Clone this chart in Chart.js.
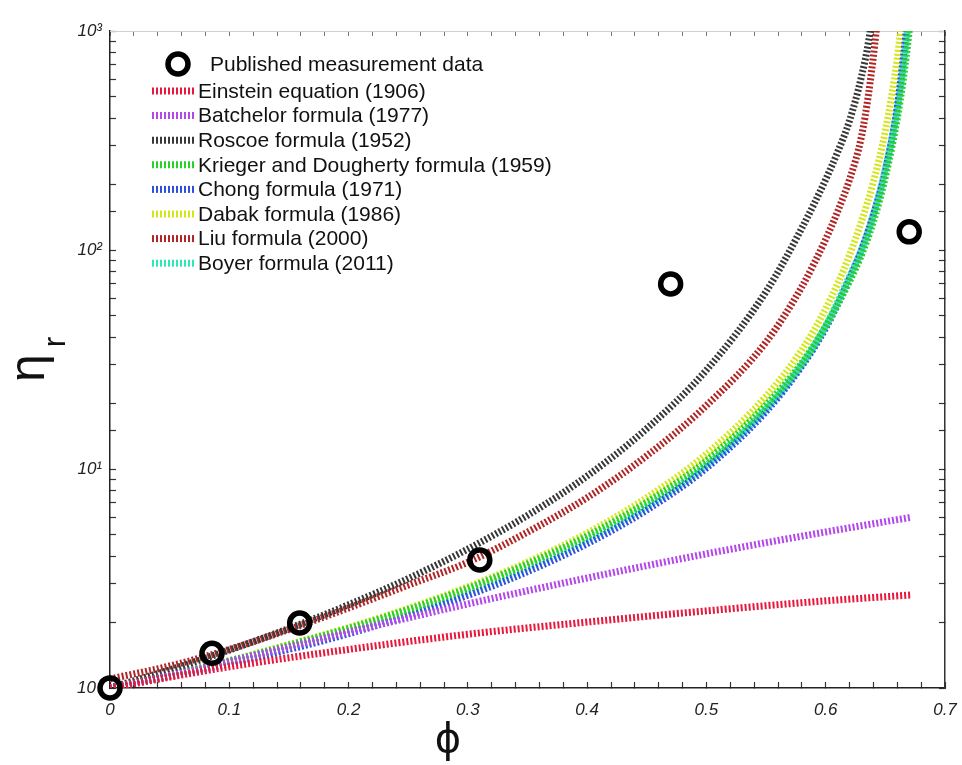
<!DOCTYPE html>
<html><head><meta charset="utf-8">
<script src="https://cdn.jsdelivr.net/npm/chart.js@4/dist/chart.umd.min.js"></script>
<style>html,body{margin:0;padding:0;background:#fff;}canvas{display:block;}</style>
</head><body>
<canvas id="c" width="962" height="765"></canvas>
<script>
// ---- data ----
const seriesLabels = [
  'Published measurement data',
  'Einstein equation (1906)',
  'Batchelor formula (1977)',
  'Roscoe formula (1952)',
  'Krieger and Dougherty formula (1959)',
  'Chong formula (1971)',
  'Dabak formula (1986)',
  'Liu formula (2000)',
  'Boyer formula (2011)'
];
const seriesColors = ['#000000','#e8183c','#b347ec','#383838','#27d127','#2f4fe0','#d4e61a','#b02626','#2fe8b8'];

const phiMeasured = [0, 0.0855, 0.159, 0.31, 0.47, 0.67];
const etaMeasured = [1.0, 1.44, 1.98, 3.84, 70, 121];

const phiEinstein = [0, 0.1, 0.2, 0.3, 0.4, 0.5, 0.6, 0.672];
const etaEinstein = [1.0, 1.25, 1.5, 1.76, 2.0, 2.25, 2.5, 2.66];

const phiBatchelor = [0, 0.05, 0.1, 0.15, 0.2, 0.25, 0.3, 0.35, 0.4, 0.45, 0.5, 0.55, 0.6, 0.65, 0.672];
const etaBatchelor = [1.0, 1.14, 1.32, 1.54, 1.80, 2.09, 2.42, 2.78, 3.18, 3.62, 4.10, 4.61, 5.16, 5.75, 6.02];

const phiRoscoe = [0, 0.05, 0.1, 0.15, 0.2, 0.25, 0.3, 0.35, 0.4, 0.45, 0.5, 0.55, 0.58, 0.6, 0.61, 0.62, 0.63, 0.636, 0.64];
const etaRoscoe = [1.0, 1.21, 1.49, 1.87, 2.40, 3.16, 4.31, 6.14, 9.29, 15.3, 28.3, 64.6, 126, 210, 280, 390, 620, 900, 1300];

const phiKrieger = [0, 0.05, 0.1, 0.15, 0.2, 0.25, 0.3, 0.35, 0.4, 0.45, 0.5, 0.55, 0.58, 0.6, 0.62, 0.63, 0.64, 0.65, 0.66, 0.665, 0.67, 0.673];
const etaKrieger = [1.0, 1.15, 1.33, 1.57, 1.87, 2.28, 2.85, 3.68, 4.94, 7.04, 10.9, 19.6, 30.5, 45, 72, 95, 135, 215, 400, 600, 1000, 1400];

const phiChong = [0, 0.05, 0.1, 0.15, 0.2, 0.25, 0.3, 0.35, 0.4, 0.45, 0.5, 0.55, 0.58, 0.6, 0.62, 0.63, 0.64, 0.65, 0.66, 0.665, 0.668, 0.671];
const etaChong = [1.0, 1.13, 1.29, 1.50, 1.77, 2.14, 2.65, 3.40, 4.56, 6.5, 10.1, 18.3, 29.5, 44, 74, 100, 145, 230, 450, 750, 1050, 1500];

const phiDabak = [0, 0.05, 0.1, 0.15, 0.2, 0.25, 0.3, 0.35, 0.4, 0.45, 0.5, 0.55, 0.58, 0.6, 0.62, 0.64, 0.65, 0.66, 0.664];
const etaDabak = [1.0, 1.15, 1.33, 1.58, 1.89, 2.31, 2.90, 3.76, 5.1, 7.4, 11.7, 21.5, 35, 54, 95, 205, 350, 750, 1150];

const phiLiu = [0, 0.05, 0.1, 0.15, 0.2, 0.25, 0.3, 0.35, 0.4, 0.45, 0.5, 0.55, 0.58, 0.6, 0.61, 0.62, 0.63, 0.636, 0.641, 0.645];
const etaLiu = [1.1, 1.26, 1.5, 1.85, 2.32, 2.95, 3.75, 5.15, 7.4, 11.5, 19.5, 38, 68, 112, 150, 210, 330, 520, 860, 1400];

const phiBoyer = [0, 0.05, 0.1, 0.15, 0.2, 0.25, 0.3, 0.35, 0.4, 0.45, 0.5, 0.55, 0.58, 0.6, 0.62, 0.63, 0.64, 0.65, 0.66, 0.666, 0.669, 0.672];
const etaBoyer = [1.0, 1.14, 1.31, 1.54, 1.83, 2.22, 2.76, 3.55, 4.75, 6.75, 10.4, 18.8, 30, 45, 76, 100, 145, 235, 440, 760, 1050, 1450];

const xTickLabels = ['0', '0.1', '0.2', '0.3', '0.4', '0.5', '0.6', '0.7'];
const yTickLabels = ['10\u2070', '10\u00b9', '10\u00b2', '10\u00b3'];

// ---- build datasets ----
const pts = (xs, ys) => xs.map((x, i) => ({x, y: ys[i]}));
const curveSets = [
  [phiEinstein, etaEinstein], [phiBatchelor, etaBatchelor], [phiRoscoe, etaRoscoe],
  [phiKrieger, etaKrieger], [phiChong, etaChong], [phiDabak, etaDabak],
  [phiLiu, etaLiu], [phiBoyer, etaBoyer]
];
const datasets = [{
  label: seriesLabels[0],
  data: pts(phiMeasured, etaMeasured),
  showLine: false,
  clip: false,
  pointRadius: 10,
  pointBorderWidth: 5.5,
  pointBorderColor: '#000',
  pointBackgroundColor: 'rgba(0,0,0,0)',
  pointHoverRadius: 10
}];
curveSets.forEach((s, i) => {
  datasets.push({
    label: seriesLabels[i + 1],
    data: pts(s[0], s[1]),
    showLine: true,
    borderColor: seriesColors[i + 1],
    borderWidth: 7,
    borderDash: [2, 2],
    pointRadius: 0,
    cubicInterpolationMode: 'monotone',
    fill: false
  });
});

const tickFont = {family: 'Liberation Sans, Arial, sans-serif', size: 17, style: 'italic'};

const legendPlugin = {
  id: 'customLegend',
  afterDatasetsDraw(chart) {
    const ctx = chart.ctx;
    ctx.save();
    ctx.font = '21px "Liberation Sans", Arial, sans-serif';
    ctx.textBaseline = 'middle';
    ctx.fillStyle = '#111';
    // measurement row
    ctx.beginPath();
    ctx.arc(178, 64, 10, 0, Math.PI * 2);
    ctx.lineWidth = 5.5;
    ctx.strokeStyle = '#000';
    ctx.stroke();
    ctx.fillText(chart.data.datasets[0].label, 210, 65);
    for (let i = 1; i < chart.data.datasets.length; i++) {
      const ds = chart.data.datasets[i];
      const y = 91 + (i - 1) * 24.6;
      ctx.beginPath();
      ctx.setLineDash([2, 2]);
      ctx.lineWidth = 7;
      ctx.strokeStyle = ds.borderColor;
      ctx.moveTo(152, y);
      ctx.lineTo(196, y);
      ctx.stroke();
      ctx.setLineDash([]);
      ctx.fillText(ds.label, 198, y + 1);
    }
    ctx.restore();
  },
  afterDraw(chart) {
    const ctx = chart.ctx;
    ctx.save();
    ctx.fillStyle = '#111';
    // y-axis title
    ctx.translate(30, 368);
    ctx.rotate(-Math.PI / 2);
    ctx.textAlign = 'center';
    ctx.textBaseline = 'middle';
    ctx.font = '50px "Liberation Sans", Arial, sans-serif';
    ctx.fillText('\u03b7', 0, 0);
    ctx.font = '32px "Liberation Sans", Arial, sans-serif';
    ctx.fillText('r', 26, 26);
    ctx.restore();
    // x-axis title
    ctx.save();
    ctx.fillStyle = '#111';
    ctx.textAlign = 'center';
    ctx.textBaseline = 'middle';
    ctx.font = '40px "DejaVu Sans", sans-serif';
    ctx.fillText('\u03d5', 448, 742);
    ctx.restore();
  }
};

new Chart(document.getElementById('c'), {
  type: 'scatter',
  data: {datasets},
  options: {
    responsive: false,
    animation: false,
    events: [],
    layout: {padding: {left: 0, top: 31, right: 17, bottom: 0}},
    plugins: {legend: {display: false}, tooltip: {enabled: false}},
    scales: {
      x: {
        type: 'linear', position: 'bottom', min: 0, max: 0.7,
        afterFit: s => { s.height = 77; s.paddingLeft = 0; s.paddingRight = 0; },
        ticks: {
          stepSize: 0.02, autoSkip: false, maxRotation: 0, padding: 18,
          color: '#222', font: tickFont,
          callback: (v, i) => (i % 5 === 0 ? xTickLabels[i / 5] : '')
        },
        grid: {drawOnChartArea: false, tickLength: -6, tickColor: '#333', tickWidth: 1.2},
        border: {display: true, color: '#222', width: 1.5}
      },
      y: {
        type: 'logarithmic', position: 'left', min: 1, max: 1000,
        afterFit: s => { s.width = 110; s.paddingTop = 0; s.paddingBottom = 0; },
        ticks: {
          autoSkip: false, padding: 14, color: '#222', font: tickFont,
          callback: v => {
            const l = Math.log10(v);
            return Math.abs(l - Math.round(l)) < 1e-9 ? yTickLabels[Math.round(l)] : '';
          }
        },
        grid: {drawOnChartArea: false, tickLength: -6, tickColor: '#333', tickWidth: 1.2},
        border: {display: true, color: '#222', width: 1.5}
      },
      x2: {
        type: 'linear', position: 'top', min: 0, max: 0.7,
        afterFit: s => { s.height = 0; s.paddingLeft = 0; s.paddingRight = 0; },
        ticks: {stepSize: 0.02, autoSkip: false, display: false},
        grid: {drawOnChartArea: false, tickLength: -5, tickColor: '#777', tickWidth: 1},
        border: {display: true, color: '#cfcfcf', width: 1}
      },
      y2: {
        type: 'logarithmic', position: 'right', min: 1, max: 1000,
        afterFit: s => { s.width = 0; s.paddingTop = 0; s.paddingBottom = 0; },
        ticks: {autoSkip: false, display: false},
        grid: {drawOnChartArea: false, tickLength: -6, tickColor: '#333', tickWidth: 1.2},
        border: {display: true, color: '#333', width: 1.5}
      }
    }
  },
  plugins: [legendPlugin]
});
</script>
</body></html>
